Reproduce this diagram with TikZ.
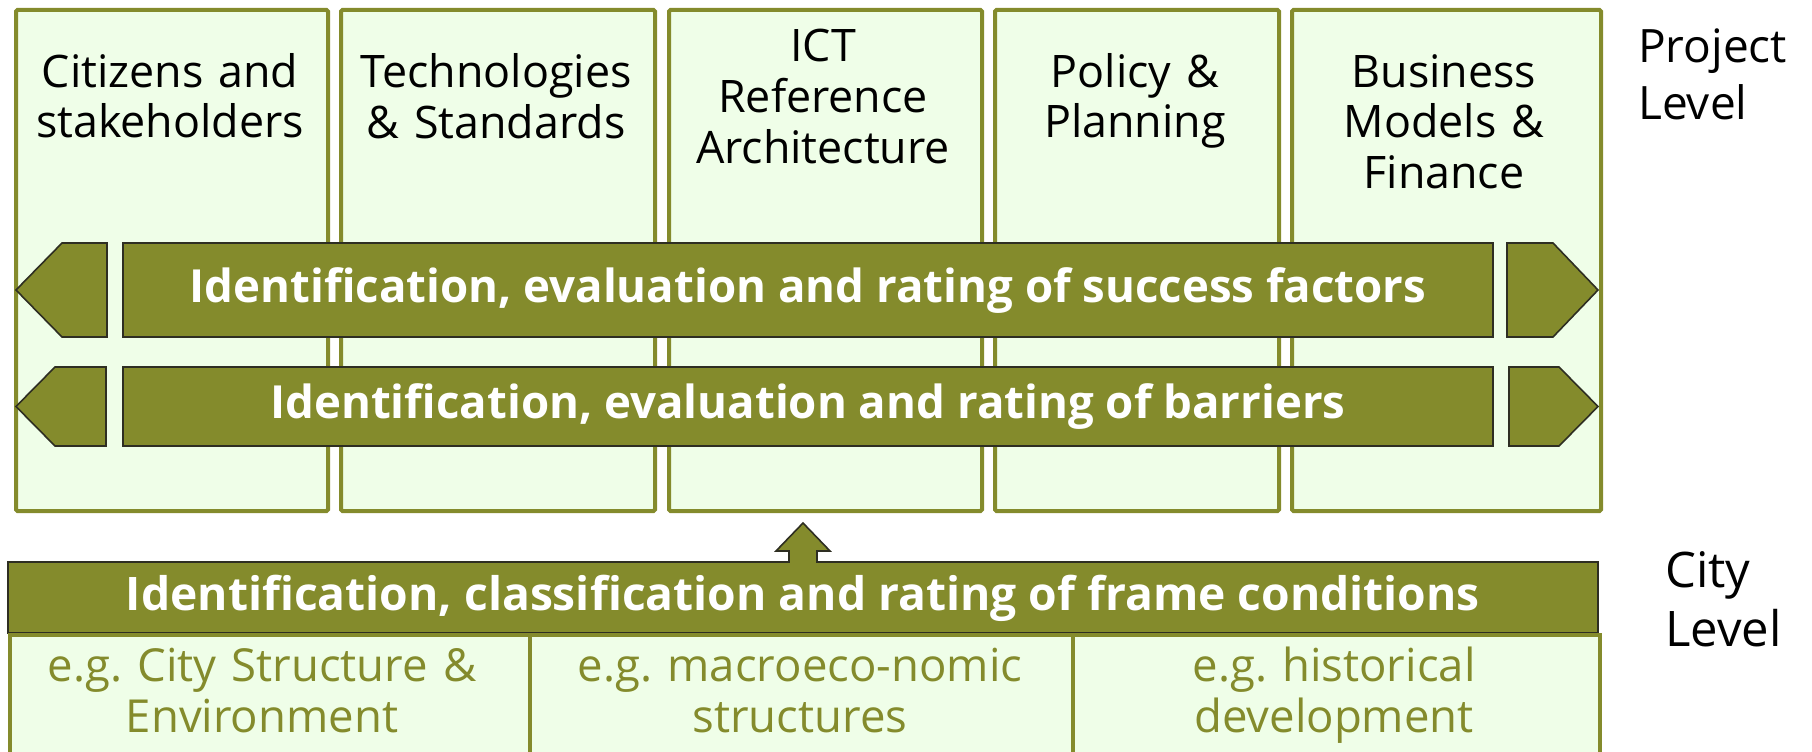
\documentclass[tikz,border=0pt]{standalone}
\usepackage{fontspec}
\setmainfont{Open Sans}
\frenchspacing
\definecolor{oliveG}{HTML}{848B2C}
\definecolor{lightG}{HTML}{EFFEE8}
\definecolor{darkO}{HTML}{2E2E22}
\tikzset{
  col/.style={draw=oliveG, line width=4pt, fill=lightG, rounded corners=1.5pt,
    anchor=north west, inner sep=0pt, minimum height=501pt},
  coltext/.style={anchor=base, text width=300pt, align=center, inner sep=0pt,
    font=\fontsize{44.8}{50.7}\selectfont},
  barshape/.style={fill=oliveG, draw=darkO, line width=1.6pt},
  barbox/.style={barshape, inner sep=0pt, text=white, text height=34pt, text depth=10pt,
    font=\fontsize{45.6}{50}\selectfont\bfseries},
  bartext/.style={inner sep=0pt, text=white, text height=34pt, text depth=10pt,
    font=\fontsize{46.2}{50}\selectfont\bfseries},
  sub/.style={draw=oliveG, line width=4pt, fill=lightG, anchor=north west,
    inner sep=0pt, minimum height=125pt},
  subtext/.style={anchor=base, text width=500pt, align=center, inner sep=0pt, text=oliveG,
    font=\fontsize{45.5}{51}\selectfont},
  leveltext/.style={anchor=base west, text width=170pt, align=left, inner sep=0pt}
}
\begin{document}
\begin{tikzpicture}[x=1pt,y=-1pt]
\useasboundingbox (0,0) rectangle (1812,752);
% columns
\node[col, minimum width=312pt] (c1) at (14,8) {};
\node[col, minimum width=314pt] (c2) at (339,8) {};
\node[col, minimum width=313pt] (c3) at (667,8) {};
\node[col, minimum width=284pt] (c4) at (993,8) {};
\node[col, minimum width=309pt] (c5) at (1290,8) {};
\node[coltext] (t1) at (170,87) {Citizens and\\stakeholders};
\node[coltext] (t2) at (496,88) {Technologies\\\& Standards};
\node[coltext] (t3) at (823,62) {ICT\\Reference\\Architecture};
\node[coltext] (t4) at (1135,87) {Policy \&\\Planning};
\node[coltext] (t5) at (1444,87) {Business\\Models \&\\Finance};
% level labels
\node[leveltext, font=\fontsize{46}{57}\selectfont] (pl) at (1638,63) {Project\\Level};
\node[leveltext, font=\fontsize{49}{59}\selectfont] (cl) at (1665,587) {City\\Level};
% row 1 arrow
\draw[barshape] (16,290) -- (62,243) -- (107,243) -- (107,337) -- (62,337) -- cycle;
\node[barbox, minimum width=1370pt, minimum height=94pt] (b1) at (808,290)
  {Identification, evaluation and rating of success factors};
\draw[barshape] (1507,243) -- (1553,243) -- (1598,290) -- (1553,337) -- (1507,337) -- cycle;
% row 2 arrow
\draw[barshape] (16,406.5) -- (55,367) -- (106,367) -- (106,446) -- (55,446) -- cycle;
\node[barbox, minimum width=1370pt, minimum height=79pt] (b2) at (808,406.5)
  {Identification, evaluation and rating of barriers};
\draw[barshape] (1509,367) -- (1559,367) -- (1598,406.5) -- (1559,446) -- (1509,446) -- cycle;
% frame conditions bar with up arrow
\draw[barshape] (8,562) -- (789,562) -- (789,551) -- (776,551) -- (803,523) -- (830,551)
  -- (817,551) -- (817,562) -- (1598,562) -- (1598,633) -- (8,633) -- cycle;
\node[bartext] (fb) at (803,598.5)
  {Identification, classification and rating of frame conditions};
% sub boxes
\node[sub, minimum width=520pt] (s1) at (8,633) {};
\node[sub, minimum width=543pt] (s2) at (528,633) {};
\node[sub, minimum width=527pt] (s3) at (1071,633) {};
\node[subtext] (st1) at (262,681) {e.g. City Structure \&\\Environment};
\node[subtext] (st2) at (800,681) {e.g. macroeco-nomic\\structures};
\node[subtext] (st3) at (1334,681) {e.g. historical\\development};
\end{tikzpicture}
\end{document}
